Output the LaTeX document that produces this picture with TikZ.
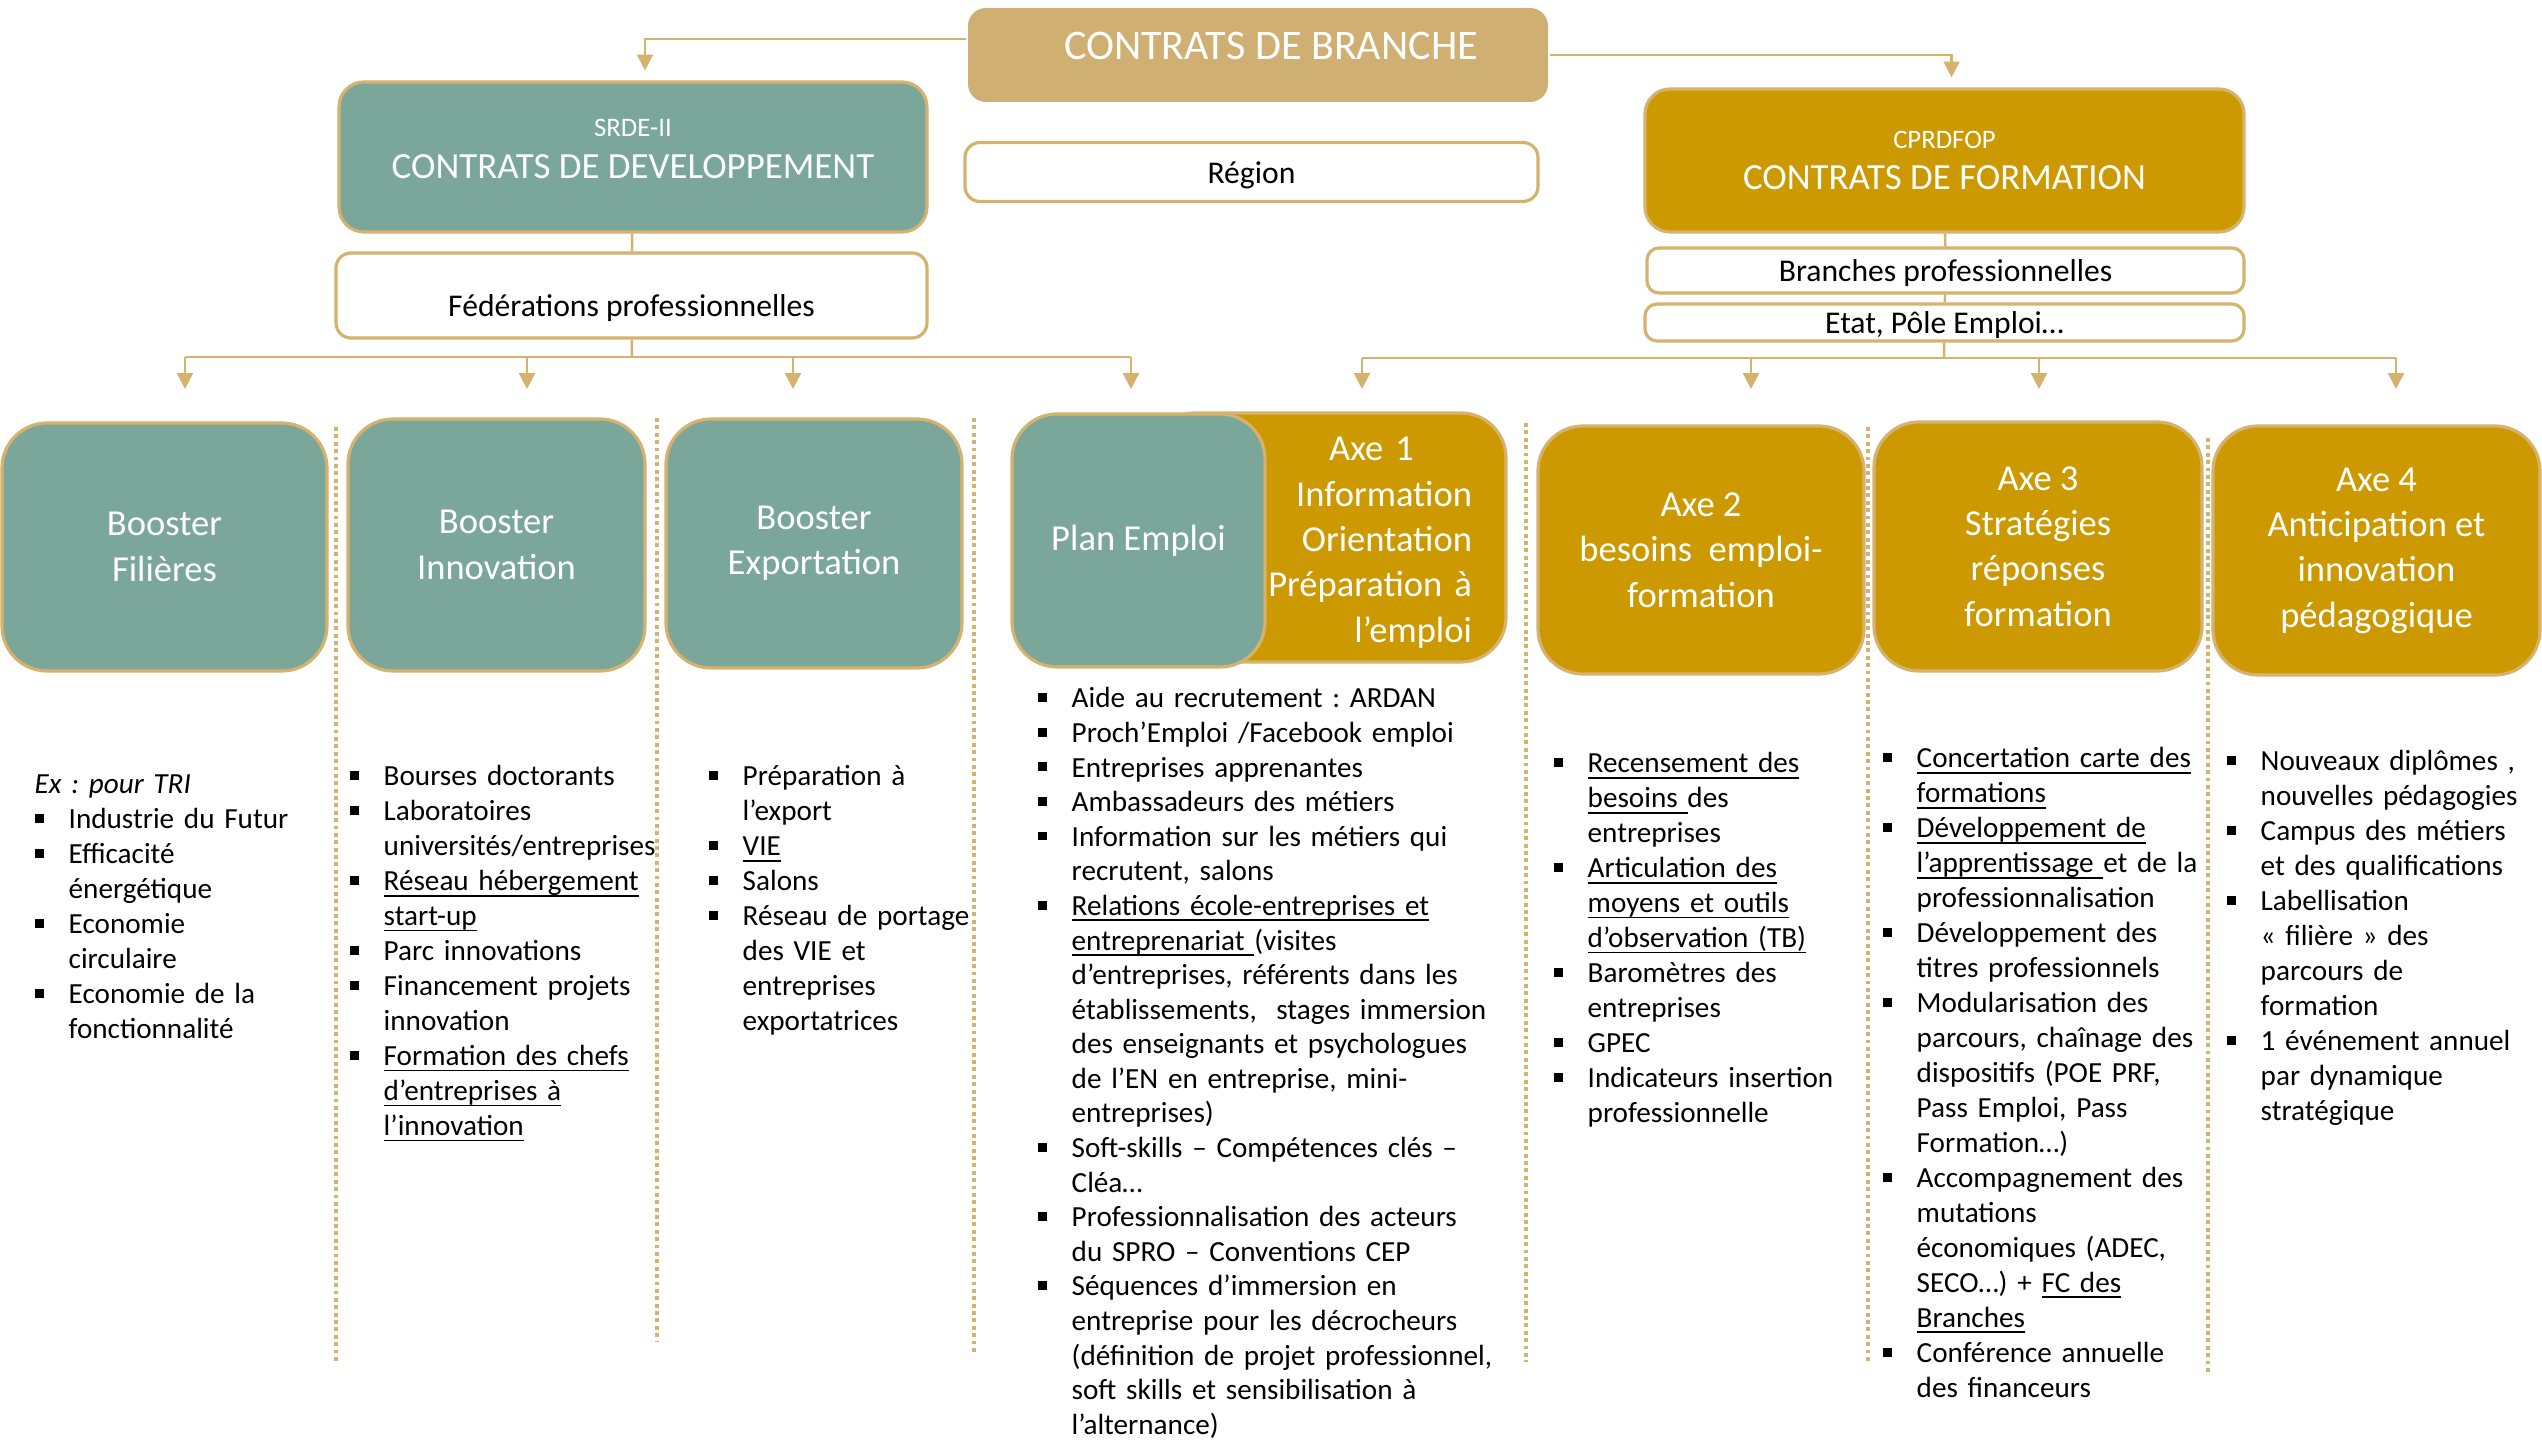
\documentclass[tikz,border=0pt]{standalone}
\usepackage{fontspec}
\setmainfont{Carlito}
\usetikzlibrary{arrows.meta}
\frenchspacing

\definecolor{vertgris}{RGB}{123,167,155}
\definecolor{ocre}{RGB}{204,153,0}
\definecolor{sable}{RGB}{208,175,114}
\definecolor{liseret}{RGB}{213,178,110}

\newcommand{\puce}{\leavevmode\llap{\rule[1.7pt]{2.5pt}{2.5pt}\hspace{0.25cm}}}
\newcommand{\souligne}[1]{\leavevmode\setbox0\hbox{#1}\rlap{\rule[-1.6pt]{\wd0}{0.5pt}}\box0}
\newcommand{\decale}[2]{\raisebox{#1}[\height][\depth]{#2}}

\tikzset{
	boite/.style={draw=liseret, line width=0.9pt, text=white, align=center, inner sep=1pt},
	ligne/.style={boite, rounded corners=0.45cm, font=\fontsize{10.4}{12.9}\selectfont},
	cadre/.style={draw=liseret, line width=0.9pt, fill=white, align=center, rounded corners=0.15cm, font=\fontsize{9}{11}\selectfont},
	lien/.style={draw=liseret, line width=0.7pt},
	fleche/.style={lien, -{Triangle[width=4.5pt,length=4.5pt]}},
	pointille/.style={draw=liseret, line width=1.3pt, dash pattern=on 1.1pt off 1pt},
	liste/.style={anchor=base west, inner sep=0pt, align=left, text width=#1, font=\fontsize{8.3}{9.95}\selectfont}
}

\begin{document}
\begin{tikzpicture}
	\useasboundingbox (0,0) rectangle (25.42,14.40);
	\fill[white] (0,0) rectangle (25.42,14.40);

	% contrats
	\node[boite, fill=sable, draw=none, rounded corners=0.18cm, minimum width=5.80cm, minimum height=0.94cm, font=\fontsize{12}{14}\selectfont] (branche) at (12.58,13.85) {\hspace*{0.26cm}\decale{0.09cm}{CONTRATS DE BRANCHE}};
	\node[boite, fill=vertgris, rounded corners=0.25cm, minimum width=5.88cm, minimum height=1.50cm, font=\fontsize{10.5}{11.7}\selectfont] (srde) at (6.33,12.83) {{\fontsize{7.6}{11.7}\selectfont\decale{0.08cm}{SRDE-II}}\\\decale{0.08cm}{CONTRATS DE DEVELOPPEMENT}};
	\node[boite, fill=ocre, rounded corners=0.25cm, minimum width=5.99cm, minimum height=1.43cm, font=\fontsize{10.5}{11.7}\selectfont] (cprd) at (19.445,12.795) {{\fontsize{7.6}{11.7}\selectfont CPRDFOP}\\CONTRATS DE FORMATION};
	\node[cadre, minimum width=5.73cm, minimum height=0.59cm] (region) at (12.515,12.68) {\decale{-0.03cm}{Région}};
	\node[cadre, minimum width=5.91cm, minimum height=0.85cm] (fede) at (6.315,11.445) {\decale{-0.13cm}{Fédérations professionnelles}};
	\node[cadre, inner sep=0pt, rounded corners=0.12cm, minimum width=5.97cm, minimum height=0.45cm] (branches) at (19.455,11.695) {\decale{-0.03cm}{Branches professionnelles}};
	\node[cadre, inner sep=0pt, rounded corners=0.12cm, minimum width=5.99cm, minimum height=0.37cm] (etat) at (19.445,11.175) {\decale{-0.03cm}{Etat, Pôle Emploi…}};

	\draw[fleche, shorten >=0.1cm] ([yshift=0.16cm]branche.west) -| ([xshift=0.12cm]srde.north);
	\draw[fleche, shorten >=0.1cm] (branche.east) -| ([xshift=0.07cm]cprd.north);
	\draw[lien] (srde) -- (fede);
	\draw[lien] (cprd) -- (branches);
	\draw[lien] (branches) -- (etat);

	% dispositifs
	\node[ligne, fill=vertgris, minimum width=3.25cm, minimum height=2.48cm] (filieres) at (1.645,8.93) {Booster\\Filières};
	\node[ligne, fill=vertgris, minimum width=2.97cm, minimum height=2.52cm] (innovation) at (4.965,8.95) {Booster\\Innovation};
	\node[ligne, fill=vertgris, minimum width=2.96cm, minimum height=2.49cm] (export) at (8.14,8.965) {Booster\\Exportation};
	\node[ligne, fill=ocre, minimum width=3.56cm, minimum height=2.49cm, text width=2.88cm, align=right] (axeun) at (13.28,9.025) {\rule{0pt}{9.7pt}Axe 1\kern0.58cm\\Information\\Orientation\\Préparation à\\l’emploi};
	\node[ligne, fill=vertgris, minimum width=2.53cm, minimum height=2.53cm] (plan) at (11.385,8.995) {Plan Emploi};
	\node[ligne, fill=ocre, minimum width=3.26cm, minimum height=2.48cm] (axedeux) at (17.01,8.90) {Axe 2\\besoins~ emploi-\\formation};
	\node[ligne, fill=ocre, minimum width=3.28cm, minimum height=2.49cm] (axetrois) at (20.38,8.935) {Axe 3\\Stratégies\\réponses\\formation};
	\node[ligne, fill=ocre, minimum width=3.27cm, minimum height=2.49cm] (axequatre) at (23.765,8.895) {Axe 4\\Anticipation et\\innovation\\pédagogique};

	% renvois
	\coordinate (busG) at (6.32,10.83);
	\coordinate (fG) at (1.85,10.51);
	\coordinate (iG) at (5.27,10.51);
	\coordinate (eG) at (7.93,10.51);
	\coordinate (pG) at (11.31,10.51);
	\coordinate (busD) at (19.44,10.82);
	\coordinate (aD) at (13.62,10.51);
	\coordinate (bD) at (17.51,10.51);
	\coordinate (cD) at (20.39,10.51);
	\coordinate (dD) at (23.96,10.51);
	\draw[lien] (fede) -- (busG);
	\draw[lien] (fG |- busG) -- (pG |- busG);
	\foreach \t in {fG,iG,eG,pG}
		\draw[fleche] (\t |- busG) -- (\t);
	\draw[lien] (etat) -- (busD);
	\draw[lien] (aD |- busD) -- (dD |- busD);
	\foreach \t in {aD,bD,cD,dD}
		\draw[fleche] (\t |- busD) -- (\t);

	\foreach \x/\yh/\yb in {3.36/10.13/0.78, 6.57/10.22/0.98, 9.74/10.22/0.85, 15.26/10.17/0.78, 18.68/10.13/0.77, 22.08/10.02/0.65}
		\draw[pointille] (\x,\yh) -- (\x,\yb);

	% listes
	\node[liste=2.6cm] (listeFil) at (0.68,6.46) {\hspace*{-0.34cm}\textit{Ex : pour TRI}\\
		\puce Industrie du Futur\\
		\puce Efficacité\\
		énergétique\\
		\puce Economie\\
		circulaire\\
		\puce Economie de la\\
		fonctionnalité};
	\node[liste=3.2cm] (listeInno) at (3.83,6.54) {\puce Bourses doctorants\\
		\puce Laboratoires\\
		universités/entreprises\\
		\puce \souligne{Réseau hébergement}\\
		\souligne{start-up}\\
		\puce Parc innovations\\
		\puce Financement projets\\
		innovation\\
		\puce \souligne{Formation des chefs}\\
		\souligne{d’entreprises à}\\
		\souligne{l’innovation}};
	\node[liste=2.8cm] (listeExpo) at (7.42,6.54) {\puce Préparation à\\
		l’export\\
		\puce \souligne{VIE}\\
		\puce Salons\\
		\puce Réseau de portage\\
		des VIE et\\
		entreprises\\
		exportatrices};
	\node[liste=4.5cm, font=\fontsize{8.3}{9.84}\selectfont] (listePlan) at (10.71,7.32) {\puce Aide au recrutement : ARDAN\\
		\puce Proch’Emploi /Facebook emploi\\
		\puce Entreprises apprenantes\\
		\puce Ambassadeurs des métiers\\
		\puce Information sur les métiers qui\\
		recrutent, salons\\
		\puce \souligne{Relations école-entreprises et}\\
		\souligne{entreprenariat }(visites\\
		d’entreprises, référents dans les\\
		établissements, ~stages immersion\\
		des enseignants et psychologues\\
		de l’EN en entreprise, mini-\\
		entreprises)\\
		\puce Soft-skills – Compétences clés –\\
		Cléa…\\
		\puce Professionnalisation des acteurs\\
		du SPRO – Conventions CEP\\
		\puce Séquences d’immersion en\\
		entreprise pour les décrocheurs\\
		(définition de projet professionnel,\\
		soft skills et sensibilisation à\\
		l’alternance)};
	\node[liste=3.0cm] (listeDeux) at (15.87,6.67) {\puce \souligne{Recensement des}\\
		\souligne{besoins }des\\
		entreprises\\
		\puce \souligne{Articulation des}\\
		\souligne{moyens et outils}\\
		\souligne{d’observation (TB)}\\
		\puce Baromètres des\\
		entreprises\\
		\puce GPEC\\
		\puce Indicateurs insertion\\
		professionnelle};
	\node[liste=3.0cm] (listeTrois) at (19.16,6.72) {\puce \souligne{Concertation carte des}\\
		\souligne{formations}\\
		\puce \souligne{Développement de}\\
		\souligne{l’apprentissage }et de la\\
		professionnalisation\\
		\puce Développement des\\
		titres professionnels\\
		\puce Modularisation des\\
		parcours, chaînage des\\
		dispositifs (POE PRF,\\
		Pass Emploi, Pass\\
		Formation…)\\
		\puce Accompagnement des\\
		mutations\\
		économiques (ADEC,\\
		SECO…) + \souligne{FC des}\\
		\souligne{Branches}\\
		\puce Conférence annuelle\\
		des financeurs};
	\node[liste=2.9cm] (listeQuatre) at (22.60,6.69) {\puce Nouveaux diplômes ,\\
		nouvelles pédagogies\\
		\puce Campus des métiers\\
		et des qualifications\\
		\puce Labellisation\\
		« filière » des\\
		parcours de\\
		formation\\
		\puce 1 événement annuel\\
		par dynamique\\
		stratégique};
\end{tikzpicture}
\end{document}
